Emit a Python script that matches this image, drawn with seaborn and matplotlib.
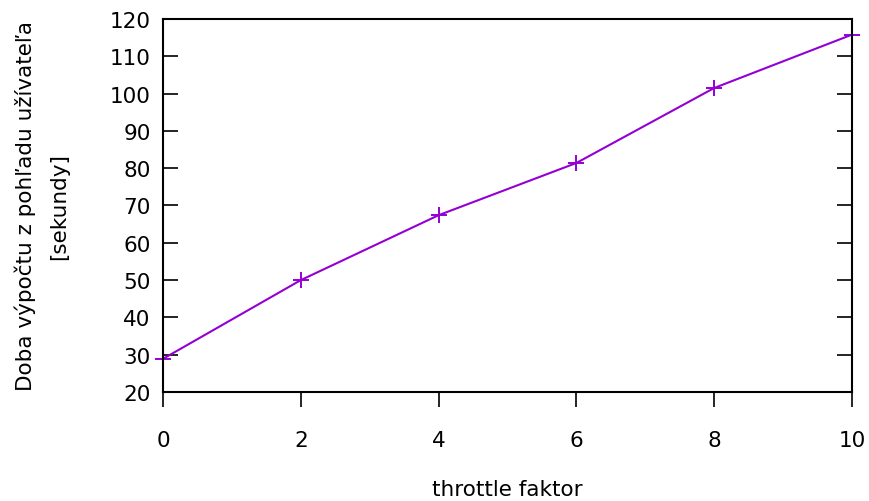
import matplotlib
matplotlib.use("Agg")
import matplotlib.pyplot as plt
import seaborn as sns
import pandas as pd

throttle = [0, 2, 4, 6, 8, 10]
seconds = [28.9, 50.0, 67.4, 81.4, 101.5, 115.8]
x_ticks = [0, 2, 4, 6, 8, 10]
y_ticks = [20, 30, 40, 50, 60, 70, 80, 90, 100, 110, 120]

sns.set_theme(style="white")
plt.rcParams['font.family'] = ['DejaVu Sans']
plt.rcParams['text.color'] = 'black'
plt.rcParams['axes.labelcolor'] = 'black'

df = pd.DataFrame({"throttle": throttle, "seconds": seconds})

fig = plt.figure(figsize=(8.69, 5.02), dpi=100)
ax = fig.add_axes([0.1876, 0.2171, 0.9804 - 0.1876, 0.9602 - 0.2171])

purple = "#9400d3"
sns.lineplot(data=df, x="throttle", y="seconds", ax=ax, color=purple,
             marker="+", markersize=11, markeredgewidth=1.4,
             markeredgecolor=purple, markerfacecolor=purple, linewidth=1.5,
             clip_on=False)

fs = 15.5
ax.set_xlim(0, 10)
ax.set_ylim(20, 120)
ax.set_xticks(x_ticks)
ax.set_yticks(y_ticks)
ax.tick_params(axis="y", direction="in", length=11, width=1.2, right=True,
               left=True, labelsize=fs, pad=9, colors="black")
ax.tick_params(axis="x", direction="out", length=11, width=1.2, top=False,
               bottom=True, labelsize=fs, pad=16, colors="black")
for s in ax.spines.values():
    s.set_visible(True)
    s.set_color("black")
    s.set_linewidth(1.5)

ax.set_xlabel("throttle faktor", fontsize=fs, va="center")
ax.xaxis.set_label_coords(0.5, -0.26)
ax.set_ylabel("Doba výpočtu z pohľadu užívateľa\n[sekundy]", fontsize=fs,
              linespacing=1.8, va="center", ha="center")
ax.yaxis.set_label_coords(-0.176, 0.5)
ax.grid(False)

fig.savefig("out.png", dpi=100)
